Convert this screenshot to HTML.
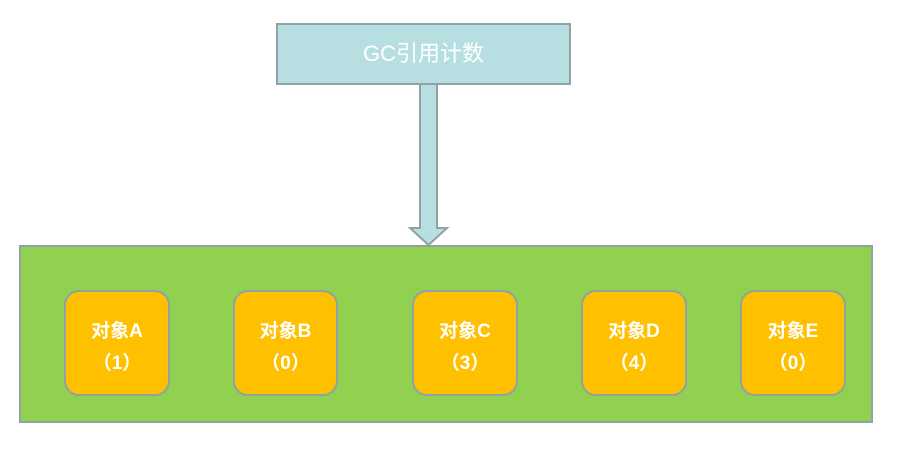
<!DOCTYPE html>
<html><head><meta charset="utf-8"><style>
body{margin:0;width:904px;height:466px;background:#fff;position:relative;overflow:hidden;font-family:"Liberation Sans","Noto Sans CJK SC",sans-serif}
.top{position:absolute;left:276px;top:23px;width:291px;height:58px;background:#b7dfe2;border:2px solid #8fa2a6;color:#fff;font-size:22px;text-align:center;line-height:58px}
.g{position:absolute;left:19px;top:245px;width:850px;height:174px;background:#92d050;border:2px solid #8fa2a6}
.o{position:absolute;top:290px;width:102px;height:102px;background:#ffc000;border:2px solid #8fa2a6;border-radius:15px;color:#fff;font-weight:bold;font-size:19px;text-align:center;box-sizing:border-box;padding-top:24px;line-height:32px}
</style></head><body>
<div class="top">GC引用计数</div>
<svg style="position:absolute;left:0;top:0" width="904" height="466">
<polygon points="420,84 437,84 437,228 447,228 428.5,245 410,228 420,228" fill="#b7dfe2" stroke="#8fa2a6" stroke-width="2"/>
</svg>
<div class="g"></div>
<div class="o" style="left:64px;width:106px;height:106px">对象A<br>（1）</div>
<div class="o" style="left:233px;width:105px;height:106px">对象B<br>（0）</div>
<div class="o" style="left:412px;width:106px;height:106px">对象C<br>（3）</div>
<div class="o" style="left:581px;width:106px;height:106px">对象D<br>（4）</div>
<div class="o" style="left:740px;width:106px;height:106px">对象E<br>（0）</div>
</body></html>
